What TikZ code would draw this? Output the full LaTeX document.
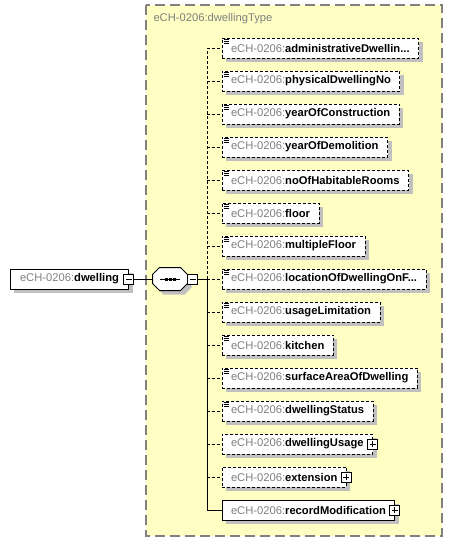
\documentclass[tikz,border=0pt]{standalone}
\usepackage{fontspec}
\setmainfont{Liberation Sans}
\usetikzlibrary{positioning, shadows, calc}
\definecolor{typefill}{RGB}{255,255,196}
\definecolor{typeline}{RGB}{128,128,128}
\definecolor{prefix}{RGB}{128,128,128}
\definecolor{shadowgray}{RGB}{192,192,192}
\tikzset{font=\fontsize{11.2}{13}\selectfont}
\newcommand{\ech}[1]{\textcolor{prefix}{eCH-0206:}\textbf{#1}}
\newcommand{\simpleicon}[1]{\foreach \yy in {1.5,3.5,5.5} {\draw[line width=0.8pt] ([shift={(2,\yy)}]#1.north west) -- ++(5,0);}}

\begin{document}
\begin{tikzpicture}[x=1pt,y=-1pt,line width=1pt]
\tikzstyle{elem}=[draw, fill=white, minimum height=20pt, inner xsep=9pt, inner ysep=0pt, outer sep=0pt,
    dash pattern=on 3pt off 2pt,
    drop shadow={shadow xshift=4pt, shadow yshift=-4pt, fill=shadowgray, opacity=1}]
\tikzstyle{must}=[elem, solid]
\tikzstyle{opt}=[dash pattern=on 3pt off 2pt]
\tikzstyle{btn}=[draw, solid, fill=white, minimum size=10pt, inner sep=0pt, outer sep=0pt]
\tikzstyle{minusbtn}=[btn, path picture={\draw[line width=1pt] ([xshift=2pt]path picture bounding box.west) -- ([xshift=-2pt]path picture bounding box.east);}]
\tikzstyle{plusbtn}=[btn, path picture={\draw[line width=1pt] ([xshift=2pt]path picture bounding box.west) -- ([xshift=-2pt]path picture bounding box.east)
    ([yshift=-2pt]path picture bounding box.north) -- ([yshift=2pt]path picture bounding box.south);}]

\useasboundingbox (0,0) rectangle (452,542);

% complex type container
\draw[typeline, fill=typefill, line width=1.5pt, dash pattern=on 10pt off 5pt] (146,5) rectangle (442,536);
\node[anchor=west, text=prefix, inner sep=0pt] (typename) at (153,19) {eCH-0206:dwellingType};

% the element itself
\node[must, anchor=west, inner xsep=10pt] (dwelling) at (10,279) {\ech{dwelling}\hspace{3pt}};
\node[minusbtn] (dwbtn) at (dwelling.east) {};

% sequence compositor
\node[inner sep=0pt, minimum width=34pt, minimum height=22pt] (seq) at (170,279) {};
\draw[fill=white, drop shadow={shadow xshift=4pt, shadow yshift=-4pt, fill=shadowgray, opacity=1}]
    ([xshift=7pt]seq.north west) -- ([xshift=-7pt]seq.north east) -- ([yshift=-7pt]seq.north east)
    -- ([yshift=7pt]seq.south east) -- ([xshift=-7pt]seq.south east) -- ([xshift=7pt]seq.south west)
    -- ([yshift=7pt]seq.south west) -- ([yshift=-7pt]seq.north west) -- cycle;
\draw ([xshift=-10pt]seq.center) -- ([xshift=10pt]seq.center);
\foreach \s in {-4,0,4} {\fill ([xshift=\s pt]seq.center) ++(-1.5,-1.5) rectangle ++(3,3);}
\node[minusbtn] (seqbtn) at ([xshift=5pt]seq.east) {};
\coordinate (fork) at (207,279);

% children
\node[elem, anchor=west] (admin) at (222,48) {\ech{administrativeDwellin...}};
\node[elem, below=13pt of admin.south west, anchor=north west] (physno) {\ech{physicalDwellingNo}};
\node[elem, below=13pt of physno.south west, anchor=north west] (constr) {\ech{yearOfConstruction}};
\node[elem, below=13pt of constr.south west, anchor=north west] (demol) {\ech{yearOfDemolition}};
\node[elem, below=13pt of demol.south west, anchor=north west] (rooms) {\ech{noOfHabitableRooms}};
\node[elem, below=13pt of rooms.south west, anchor=north west] (floor) {\ech{floor}};
\node[elem, below=13pt of floor.south west, anchor=north west] (multi) {\ech{multipleFloor}};
\node[elem, below=13pt of multi.south west, anchor=north west] (location) {\ech{locationOfDwellingOnF...}};
\node[elem, below=13pt of location.south west, anchor=north west] (limit) {\ech{usageLimitation}};
\node[elem, below=13pt of limit.south west, anchor=north west] (kitchen) {\ech{kitchen}};
\node[elem, below=13pt of kitchen.south west, anchor=north west] (area) {\ech{surfaceAreaOfDwelling}};
\node[elem, below=13pt of area.south west, anchor=north west] (status) {\ech{dwellingStatus}};
\node[elem, below=13pt of status.south west, anchor=north west] (dusage) {\ech{dwellingUsage}\hspace{5pt}};
\node[elem, below=13pt of dusage.south west, anchor=north west] (ext) {\ech{extension}\hspace{5pt}};
\node[must, below=13pt of ext.south west, anchor=north west] (recmod) {\ech{recordModification}\hspace{5pt}};

\node[plusbtn] (dusagebtn) at (dusage.east) {};
\node[plusbtn] (extbtn) at (ext.east) {};
\node[plusbtn] (recmodbtn) at (recmod.east) {};

\foreach \n in {admin,physno,constr,demol,rooms,floor,multi,location,limit,kitchen,area,status}
    {\simpleicon{\n}}

% connectors
\draw (dwbtn.east) -- (seq.west);
\draw (seqbtn.east) -- (fork);
\draw[opt] (fork) -- (fork |- admin.west);
\draw (fork) -- (fork |- recmod.west);
\foreach \n in {admin,physno,constr,demol,rooms,floor,multi,location,limit,kitchen,area,status,dusage,ext}
    {\draw[opt] (fork |- \n.west) -- (\n.west);}
\draw (fork |- recmod.west) -- (recmod.west);

\end{tikzpicture}
\end{document}
